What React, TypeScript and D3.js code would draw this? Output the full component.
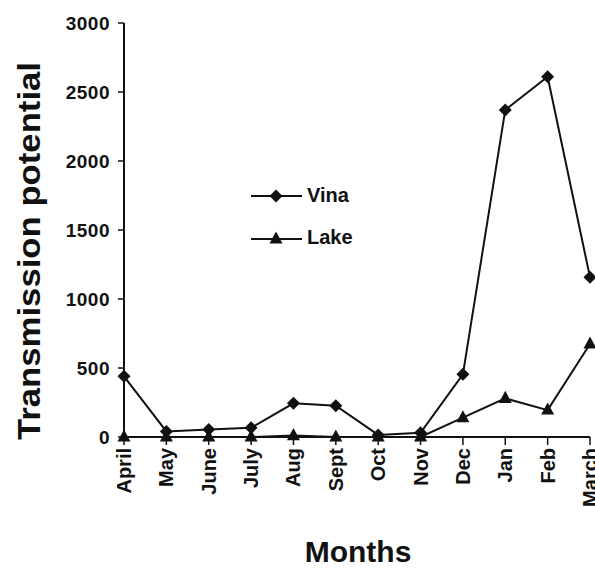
import React from 'react';
import * as d3 from 'd3';

const months = ['April', 'May', 'June', 'July', 'Aug', 'Sept', 'Oct', 'Nov', 'Dec', 'Jan', 'Feb', 'March'];
const vina = [440, 40, 55, 67, 244, 227, 15, 31, 454, 2370, 2611, 1157];
const lake = [0, 0, 0, 0, 10, 0, 0, 0, 140, 280, 195, 674];
const yTicks = [0, 500, 1000, 1500, 2000, 2500, 3000];

const font = '"Liberation Sans", Arial, sans-serif';

export default function App() {
    const w = 595;
    const h = 569;
    const left = 124;
    const right = 590;
    const top = 23;
    const bottom = 437;

    const x = d3.scalePoint<string>().domain(months).range([left, right]);
    const y = d3.scaleLinear().domain([0, 3000]).range([bottom, top]);

    const line = d3.line<number>()
        .x((d, i) => x(months[i]) as number)
        .y(d => y(d));

    const diamond = (cx: number, cy: number, r = 6.5) =>
        `M${cx},${cy - r}L${cx + r},${cy}L${cx},${cy + r}L${cx - r},${cy}Z`;
    const triangle = (cx: number, cy: number, r = 6.5) =>
        `M${cx},${cy - r}L${cx + r},${cy + r * 0.85}L${cx - r},${cy + r * 0.85}Z`;

    return (
        <svg width={w} height={h} style={{ position: 'absolute', left: 0, top: 0, background: '#fff' }}
            fontFamily={font} fontWeight="bold">
            {/* axes */}
            <line x1={left} x2={left} y1={top} y2={bottom} stroke="#111" strokeWidth={2} />
            <line x1={left} x2={right} y1={bottom} y2={bottom} stroke="#111" strokeWidth={2} />
            {yTicks.map(t => (
                <g key={t}>
                    <line x1={left - 6} x2={left} y1={y(t)} y2={y(t)} stroke="#111" strokeWidth={1.5} />
                    <text x={left - 14} y={y(t) + 7} textAnchor="end" fontSize={19} letterSpacing={0.5} fill="#111">{t}</text>
                </g>
            ))}
            {months.map(m => (
                <g key={m}>
                    <line x1={x(m)} x2={x(m)} y1={bottom} y2={bottom + 8} stroke="#111" strokeWidth={1.5} />
                    <text transform={`translate(${(x(m) as number) + 7},${bottom + 11}) rotate(-90)`}
                        textAnchor="end" fontSize={20} fill="#111">{m}</text>
                </g>
            ))}

            {/* series */}
            <path d={line(lake) || ''} fill="none" stroke="#111" strokeWidth={2} />
            <path d={line(vina) || ''} fill="none" stroke="#111" strokeWidth={2} />
            {lake.map((v, i) => (
                <path key={'l' + i} d={triangle(x(months[i]) as number, y(v) - 1)} fill="#111" />
            ))}
            {vina.map((v, i) => (
                <path key={'v' + i} d={diamond(x(months[i]) as number, y(v))} fill="#111" />
            ))}

            {/* legend */}
            <line x1={251} x2={302} y1={196} y2={196} stroke="#111" strokeWidth={2} />
            <path d={diamond(276, 196)} fill="#111" />
            <text x={307} y={202} fontSize={20} fill="#111">Vina</text>
            <line x1={251} x2={302} y1={239} y2={239} stroke="#111" strokeWidth={2} />
            <path d={triangle(276, 238)} fill="#111" />
            <text x={307} y={244} fontSize={20} fill="#111">Lake</text>

            {/* titles */}
            <text transform={`translate(40,251) rotate(-90)`} textAnchor="middle" fontSize={31}
                textLength={378} lengthAdjust="spacingAndGlyphs" fill="#111">
                Transmission potential
            </text>
            <text x={358} y={562} textAnchor="middle" fontSize={30} fill="#111">Months</text>
        </svg>
    );
}
